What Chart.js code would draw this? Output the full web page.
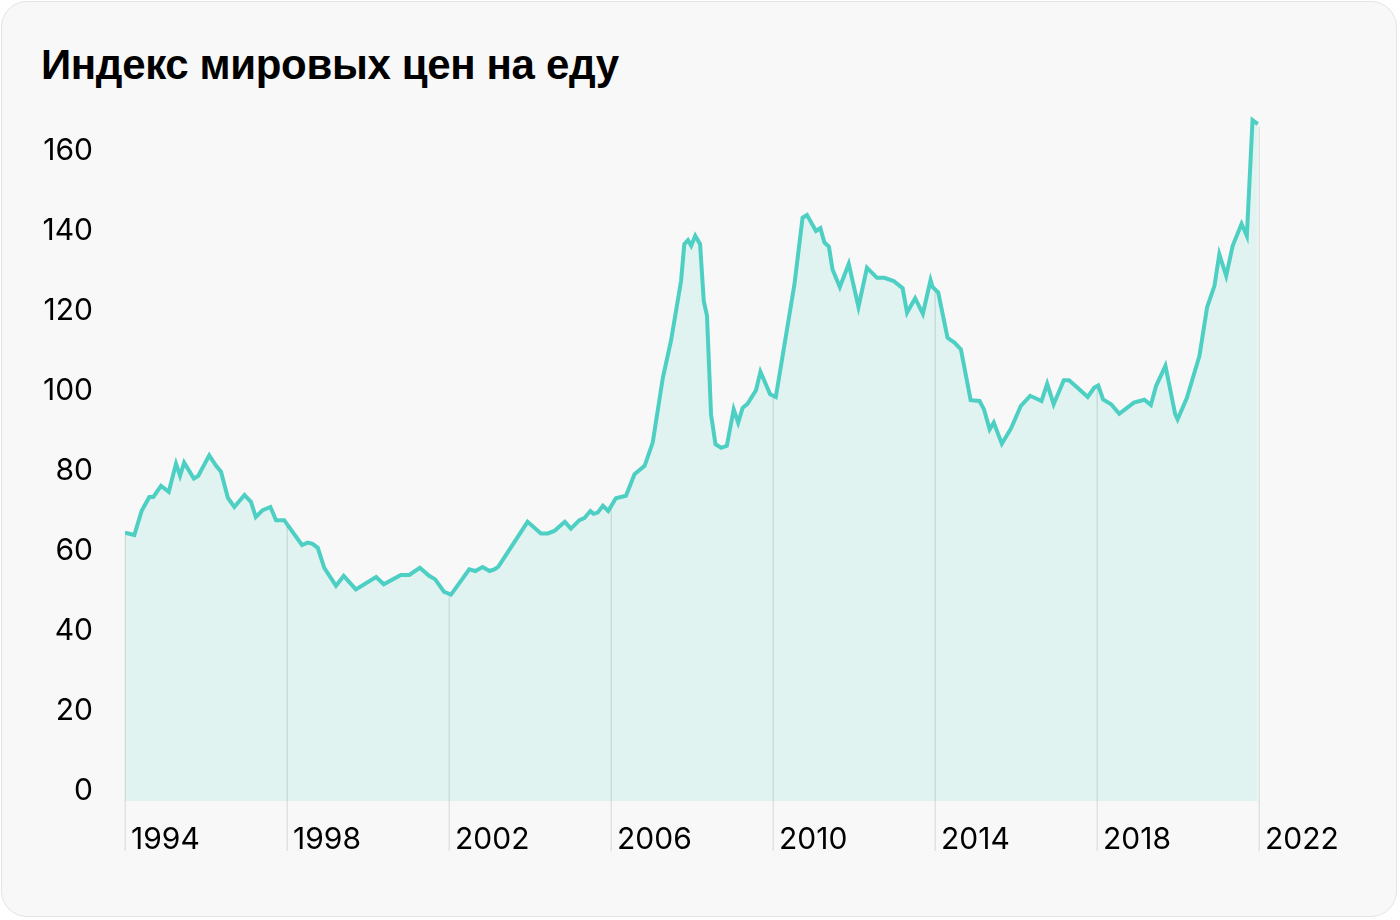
<!DOCTYPE html>
<html lang="ru">
<head>
<meta charset="utf-8">
<title>Индекс мировых цен на еду</title>
<script src="https://cdn.jsdelivr.net/npm/chart.js@4"></script>
<style>
  html, body { margin: 0; padding: 0; background: #ffffff; }
  .card {
    position: absolute; left: 1px; top: 1px; width: 1396px; height: 916px;
    background: #f8f8f8; border: 1px solid #e4e4e4; border-radius: 26px;
    box-sizing: border-box; overflow: hidden;
  }
  .card h1 {
    position: absolute; left: 39px; top: 42px; margin: 0;
    font: bold 42px/42px "Liberation Sans", Arial, sans-serif; color: #000;
    letter-spacing: -0.35px;
  }
  #chartWrap { position: absolute; left: -1px; top: -1px; width: 1400px; height: 920px; }
</style>
</head>
<body>
<div class="card">
  <h1>Индекс мировых цен на еду</h1>
  <div id="chartWrap"><canvas id="foodChart"></canvas></div>
</div>
<script>
// данные: год (дробный) и значение индекса
const years = [
  1994.00, 1994.23, 1994.41, 1994.60, 1994.70, 1994.89, 1995.08, 1995.26, 1995.36, 1995.46,
  1995.70, 1995.81, 1996.08, 1996.25, 1996.37, 1996.54, 1996.70, 1996.95, 1997.11, 1997.23,
  1997.40, 1997.59, 1997.73, 1997.93, 1998.37, 1998.51, 1998.63, 1998.76, 1998.92, 1999.21,
  1999.40, 1999.70, 2000.20, 2000.39, 2000.81, 2001.02, 2001.28, 2001.51, 2001.66, 2001.88,
  2002.05, 2002.50, 2002.65, 2002.83, 2003.00, 2003.12, 2003.22, 2003.94, 2004.27, 2004.44,
  2004.60, 2004.86, 2005.01, 2005.22, 2005.34, 2005.49, 2005.57, 2005.67, 2005.80, 2005.93,
  2006.12, 2006.37, 2006.58, 2006.83, 2007.03, 2007.28, 2007.48, 2007.73, 2007.81, 2007.90,
  2007.98, 2008.08, 2008.20, 2008.29, 2008.37, 2008.47, 2008.58, 2008.72, 2008.86, 2009.03,
  2009.14, 2009.25, 2009.37, 2009.58, 2009.69, 2009.93, 2010.07, 2010.53, 2010.73, 2010.84,
  2011.06, 2011.17, 2011.27, 2011.38, 2011.47, 2011.65, 2011.87, 2012.11, 2012.32, 2012.57,
  2012.75, 2012.98, 2013.20, 2013.31, 2013.51, 2013.70, 2013.89, 2013.94, 2014.08, 2014.31,
  2014.48, 2014.64, 2014.88, 2015.10, 2015.21, 2015.35, 2015.45, 2015.65, 2015.88, 2016.12,
  2016.35, 2016.63, 2016.77, 2016.93, 2017.18, 2017.31, 2017.52, 2017.77, 2017.93, 2018.03,
  2018.15, 2018.35, 2018.55, 2018.91, 2019.17, 2019.33, 2019.46, 2019.69, 2019.93, 2019.99,
  2020.22, 2020.53, 2020.72, 2020.90, 2021.02, 2021.19, 2021.35, 2021.57, 2021.70, 2021.84,
  2021.97
];
const values = [
  64.6, 64.0, 70.0, 73.5, 73.5, 76.3, 74.8, 81.8, 78.8, 82.1,
  78.1, 78.8, 83.9, 81.3, 79.8, 73.3, 71.0, 74.0, 72.3, 68.5,
  70.2, 71.0, 67.7, 67.7, 61.5, 62.1, 61.8, 60.8, 55.8, 51.3,
  53.8, 50.4, 53.5, 51.7, 54.0, 54.0, 55.8, 53.8, 52.9, 49.8,
  49.1, 55.4, 55.0, 56.0, 55.0, 55.4, 56.1, 67.3, 64.4, 64.4,
  65.0, 67.3, 65.6, 67.7, 68.2, 70.0, 69.3, 69.6, 71.3, 70.0,
  73.2, 73.8, 79.2, 81.3, 87.1, 103.3, 112.5, 127.5, 136.7, 137.7,
  136.3, 138.8, 136.7, 122.5, 118.8, 94.2, 86.7, 85.8, 86.3, 95.4,
  92.1, 95.8, 96.8, 100.2, 104.8, 99.2, 98.5, 126.7, 143.3, 144.0,
  140.0, 140.7, 137.1, 136.1, 130.4, 126.0, 131.8, 121.0, 130.8, 128.3,
  128.3, 127.5, 125.7, 119.6, 123.2, 119.3, 127.7, 126.0, 124.6, 113.3,
  112.1, 110.4, 97.7, 97.5, 95.4, 90.4, 92.1, 86.8, 90.7, 96.3,
  98.8, 97.5, 101.8, 96.7, 102.7, 102.7, 100.8, 98.5, 100.8, 101.4,
  97.9, 96.7, 94.3, 97.1, 97.8, 96.5, 101.3, 106.3, 94.2, 92.9,
  98.3, 108.8, 121.0, 126.3, 134.2, 128.8, 136.3, 141.8, 138.8, 167.7,
  166.7
];
const yTicks = [0, 20, 40, 60, 80, 100, 120, 140, 160];
const xTicks = [1994, 1998, 2002, 2006, 2010, 2014, 2018, 2022];

const LINE_COLOR = '#4ecfc3';
const FILL_COLOR = '#e0f3f0';

// значение ряда в точке x (линейная интерполяция между соседними точками)
function valueAt(x) {
    if (x <= years[0]) return values[0];
    for (let i = 1; i < years.length; i++) {
        if (x <= years[i]) {
            const t = (x - years[i - 1]) / (years[i] - years[i - 1]);
            return values[i - 1] + t * (values[i] - values[i - 1]);
        }
    }
    return values[values.length - 1];
}

// вертикальные линии от графика вниз на каждом годе оси
const dropLines = {
    id: 'dropLines',
    afterDatasetsDraw(chart) {
        const { ctx, scales: { x, y }, chartArea } = chart;
        ctx.save();
        ctx.strokeStyle = 'rgba(0, 0, 0, 0.09)';
        ctx.lineWidth = 1.5;
        xTicks.forEach(yr => {
            const px = Math.round(x.getPixelForValue(yr)) + 0.25;
            const top = y.getPixelForValue(valueAt(yr)) + 2.5;
            ctx.beginPath();
            ctx.moveTo(px, top);
            ctx.lineTo(px, chartArea.bottom + 50);
            ctx.stroke();
        });
        ctx.restore();
    }
};

const tickFont = { family: 'Inter, "Noto Sans", sans-serif', size: 30 };

new Chart(document.getElementById('foodChart'), {
    type: 'line',
    data: {
        datasets: [{
            data: years.map((yr, i) => ({ x: yr, y: values[i] })),
            borderColor: LINE_COLOR,
            backgroundColor: FILL_COLOR,
            borderWidth: 4,
            fill: 'start',
            pointRadius: 0,
            tension: 0
        }]
    },
    options: {
        responsive: true,
        maintainAspectRatio: false,
        animation: false,
        layout: { padding: { left: 0, right: 142, top: 110, bottom: 60 } },
        scales: {
            x: {
                type: 'linear',
                min: 1994,
                max: 2022,
                afterBuildTicks: s => { s.ticks = xTicks.map(v => ({ value: v })); },
                afterFit: s => { s.height = 60; },
                grid: { display: false, drawTicks: false },
                border: { display: false },
                ticks: {
                    align: 'start',
                    labelOffset: 6,
                    padding: 21,
                    color: '#000',
                    font: tickFont,
                    maxRotation: 0,
                    callback: v => String(v)
                }
            },
            y: {
                min: -2.5,
                max: 170,
                afterBuildTicks: s => { s.ticks = yTicks.map(v => ({ value: v })); },
                afterFit: s => { s.width = 124; },
                grid: { display: false, drawTicks: false },
                border: { display: false },
                ticks: {
                    padding: 32,
                    color: '#000',
                    font: tickFont
                }
            }
        },
        plugins: {
            legend: { display: false },
            tooltip: { enabled: false },
            title: { display: false }
        }
    },
    plugins: [dropLines]
});
</script>
</body>
</html>
